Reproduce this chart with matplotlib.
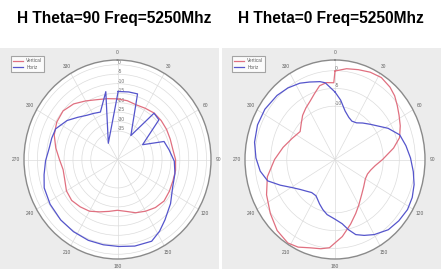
import matplotlib.pyplot as plt
import numpy as np
from matplotlib.patches import Rectangle

# Two measured antenna patterns (H plane), drawn as elliptical polar plots.

titles = ['H Theta=90 Freq=5250Mhz', 'H Theta=0 Freq=5250Mhz']
legend_labels = ['Vertical', 'Horiz']

# left panel, dB values
left_red_deg = [0, 10, 20, 30, 40, 50, 60, 70, 80, 90, 100, 110, 120, 130, 140, 150, 160, 170, 180,
                190, 200, 210, 220, 230, 240, 250, 260, 270, 280, 290, 300, 310, 320, 330, 340, 350, 360]
left_red_db = [-18.0, -18.5, -19.3, -18.8, -18.0, -18.0, -18.2, -18.5, -18.5, -17.4, -16.9, -16.9, -16.4,
               -15.9, -16.9, -18.5, -20.1, -22.2, -23.2, -22.2, -20.6, -18.5, -17.4, -16.4, -16.9, -18.5,
               -19.0, -17.4, -14.8, -12.2, -10.6, -10.1, -11.7, -14.3, -16.4, -17.4, -18.0]
left_blue_deg = [0.6, 10, 18, 30.7, 40, 48, 61, 70, 80, 91.6, 103, 115, 128, 140, 148, 156, 168, 179, 190,
                 201, 213, 225, 238, 250, 259, 269, 279, 287, 295, 306, 315, 324, 331, 339, 349.6, 329, 360.6]
left_blue_db = [-14.1, -13.8, -13.6, -35.3, -18.1, -18.7, -33.9, -22.2, -20.6, -18.1, -16.9, -15.8, -12.2,
                -8.5, -5.4, -2.8, -3.3, -4.1, -4.3, -4.3, -4.6, -4.9, -5.4, -6.2, -8.0, -9.6, -11.2, -11.4,
                -11.7, -15.0, -18.5, -21.1, -22.2, -23.2, -13.6, -40.0, -14.1]

# right panel
right_red_deg = [0, 8, 16, 24, 32, 40, 46, 52, 58, 65, 73, 80, 90, 98, 105, 112, 120, 131, 140, 150, 157,
                 165, 174, 184, 190, 197, 205, 212, 222, 233, 245, 257, 270, 282, 294, 306, 314, 321, 328,
                 335, 341, 347, 353, 359, 360]
right_red_db = [-0.1, 0.8, 1.3, 1.9, 2.2, 1.6, 0.8, -0.4, -1.5, -2.6, -4.0, -6.5, -10.2, -12.4, -13.5,
                -14.1, -14.1, -13.2, -12.1, -10.2, -8.5, -6.2, -3.2, -0.1, 0.5, 1.0, 2.2, 2.7, 1.9, 0.2,
                -1.5, -3.4, -6.2, -8.5, -10.4, -11.6, -10.4, -9.0, -7.9, -6.8, -5.4, -3.7, -3.2, -3.4, -0.1]
right_blue_deg = [0, 6, 13, 20, 26, 33, 40, 48, 55, 62, 71, 80, 89, 98, 106, 114, 122, 131, 140, 150, 157,
                  163, 168, 173, 180, 189, 195, 201, 210, 218, 225, 232, 239, 247, 254, 262, 271, 281, 292,
                  303, 315, 324, 333, 340, 348, 352, 360]
right_blue_db = [-6.0, -8.2, -11.0, -12.4, -13.0, -12.7, -11.6, -10.2, -8.6, -6.3, -3.7, -2.6, -1.5, -0.4,
                 0.6, 1.3, 1.6, 1.3, 0.8, -0.6, -1.8, -2.9, -4.8, -6.8, -8.2, -9.3, -10.4, -11.6, -13.2,
                 -13.2, -12.4, -11.3, -9.6, -6.5, -3.2, -1.5, -0.4, 0.5, 1.0, 1.0, 0.5, -0.1, -0.9, -1.8,
                 -2.6, -3.2, -6.0]

panels = [
    dict(red=(left_red_deg, left_red_db), blue=(left_blue_deg, left_blue_db),
         rlim=(-50, 2.5), rticks=list(range(-35, 1, 5))),
    dict(red=(right_red_deg, right_red_db), blue=(right_blue_deg, right_blue_db),
         rlim=(-25, 3), rticks=list(range(-10, 1, 5))),
]

W, H = 441, 269
fig = plt.figure(figsize=(W / 100, H / 100), dpi=100)
plt.rcParams['font.family'] = ['Liberation Sans', 'DejaVu Sans']

# gray screenshot panels, behind the axes
fig.patches.append(Rectangle((0, 0), 219 / W, 221 / H, transform=fig.transFigure,
                             facecolor='#ececec', edgecolor='none', zorder=-10))
fig.patches.append(Rectangle((222 / W, 0), 219 / W, 221 / H, transform=fig.transFigure,
                             facecolor='#ececec', edgecolor='none', zorder=-10))

title_x = [114, 331]
ax_left = [24, 245]
ax_width = [187, 180]

red_col = '#e07080'
blue_col = '#5555cc'

for i, p in enumerate(panels):
    fig.text(title_x[i] / W, 1 - 18 / H, titles[i], ha='center', va='center',
             fontsize=11.2, fontweight='bold', color='black')

    ax = fig.add_axes([ax_left[i] / W, 10 / H, ax_width[i] / W, 199 / H], projection='polar')
    ax.set_aspect('auto')
    ax.set_theta_zero_location('N')
    ax.set_theta_direction(-1)
    ax.set_facecolor('white')
    ax.set_rlim(*p['rlim'])
    ax.set_rticks(p['rticks'])
    ax.set_yticklabels([str(t) for t in p['rticks']], fontsize=3.5, color='#707070')
    ax.set_rlabel_position(0)
    ax.set_thetagrids(range(0, 360, 30), [str(a) for a in range(0, 360, 30)],
                      fontsize=3.5, color='#606060')
    ax.tick_params(axis='x', pad=-5)
    ax.grid(color='#dcdcdc', lw=0.5)
    ax.spines['polar'].set_color('#8a8a8a')
    ax.spines['polar'].set_linewidth(1.0)

    rd, rv = p['red']
    bd, bv = p['blue']
    l1, = ax.plot(np.deg2rad(rd), rv, color=red_col, lw=0.9)
    l2, = ax.plot(np.deg2rad(bd), bv, color=blue_col, lw=0.9)

    leg = fig.legend([l1, l2], legend_labels, loc='upper left',
                     bbox_to_anchor=((ax_left[i] - 15) / W, 1 - 54 / H),
                     fontsize=3.4, frameon=True, fancybox=False, handlelength=2,
                     borderpad=0.4, labelspacing=0.3)
    leg.get_frame().set_edgecolor('#909090')
    leg.get_frame().set_linewidth(0.8)
    for t in leg.get_texts():
        t.set_color('#606060')

fig.savefig('out.png', dpi=100)
